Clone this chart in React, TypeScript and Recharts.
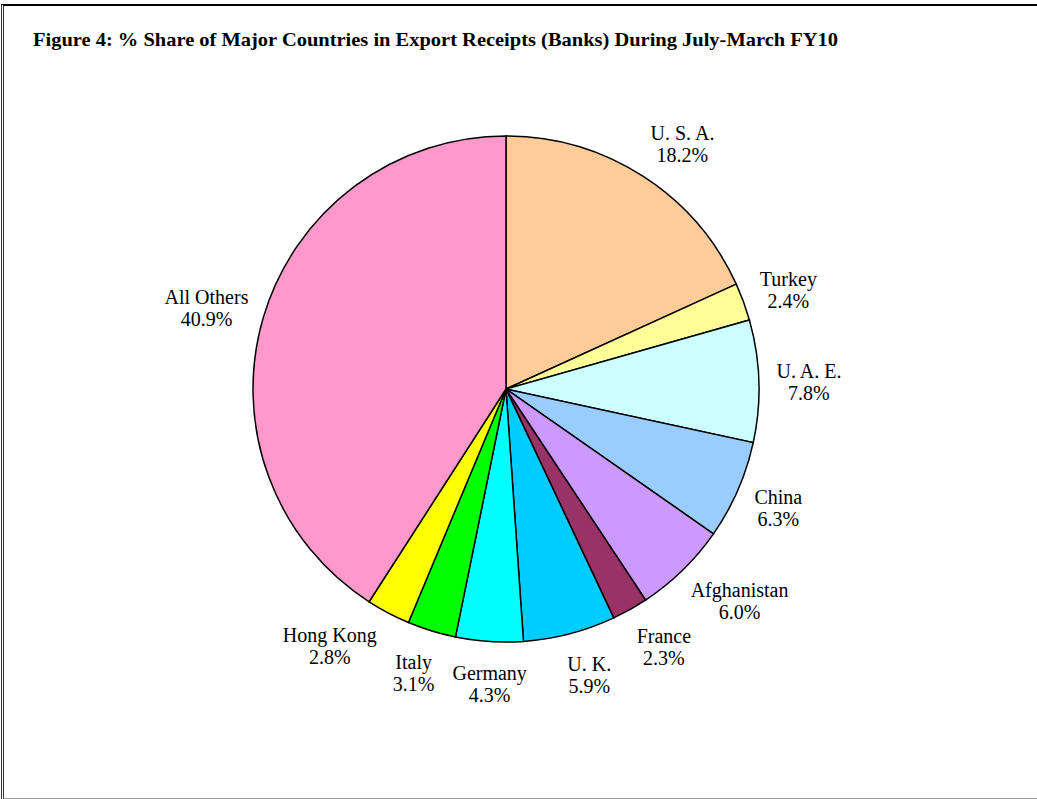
import React from "react";
import { PieChart, Pie, Cell } from "recharts";

const countries = ["U. S. A.", "Turkey", "U. A. E.", "China", "Afghanistan", "France", "U. K.", "Germany", "Italy", "Hong Kong", "All Others"];
const shares = [18.2, 2.4, 7.8, 6.3, 6.0, 2.3, 5.9, 4.3, 3.1, 2.8, 40.9];
const colors = ["#FFCC99", "#FFFF99", "#CCFFFF", "#99CCFF", "#CC99FF", "#993366", "#00CCFF", "#00FFFF", "#00FF00", "#FFFF00", "#FF99CC"];
const title = "Figure 4: % Share of Major Countries in Export Receipts (Banks) During July-March FY10";

const data = countries.map((name, i) => ({ name, value: shares[i] }));

const RAD = Math.PI / 180;
const FONT = "'Liberation Serif', 'Times New Roman', serif";
const FONT_SIZE = 20;
const CX = 506;
const CY = 389;
const R = 253;
const GAP = 22;
const LABEL_H = 44;

let ctx: CanvasRenderingContext2D | null = null;
const measure = (s: string) => {
  try {
    if (!ctx) {
      ctx = document.createElement("canvas").getContext("2d");
      if (ctx) ctx.font = `${FONT_SIZE}px "Liberation Serif"`;
    }
    if (ctx) return ctx.measureText(s).width;
  } catch (e) {}
  return s.length * 9;
};

const pctText = (v: number) => `${Number(v).toFixed(1)}%`;

// label box centre for a clock angle (degrees from 12 o'clock, clockwise)
const labelCentre = (theta: number, w: number, cx: number, cy: number, r: number) => {
  const dx = Math.sin(theta * RAD);
  const dy = -Math.cos(theta * RAD);
  const ax = cx + dx * (r + GAP);
  const ay = cy + dy * (r + GAP);
  const lx = ax + Math.sign(dx) * (w / 2) * 0.85 * Math.min(1, Math.abs(dx) * 3);
  const ly = ay + dy * (LABEL_H / 2) * 0.85 + 3;
  return [lx, ly];
};

// simple collision resolution: spread overlapping neighbours along the circle
const widths = data.map((d) => Math.max(measure(d.name), measure(pctText(d.value))));
const total = shares.reduce((a, b) => a + b, 0);
const clockMids: number[] = [];
{
  let acc = 0;
  shares.forEach((s) => {
    clockMids.push(((acc + s / 2) / total) * 360);
    acc += s;
  });
}
const deltas = shares.map(() => 0);
{
  const padX = 16;
  for (let iter = 0; iter < 400; iter++) {
    let moved = false;
    for (let i = 0; i < shares.length; i++) {
      const j = (i + 1) % shares.length;
      const [ax, ay] = labelCentre(clockMids[i] + deltas[i], widths[i], CX, CY, R);
      const [bx, by] = labelCentre(clockMids[j] + deltas[j], widths[j], CX, CY, R);
      if (Math.abs(ax - bx) < (widths[i] + widths[j]) / 2 + padX && Math.abs(ay - by) < LABEL_H) {
        deltas[i] -= 0.25;
        deltas[j] += 0.25;
        moved = true;
      }
    }
    if (!moved) break;
  }
}

const renderLabel = (props: any) => {
  const { cx, cy, midAngle, outerRadius, name, value, index } = props;
  const theta = 90 - midAngle + (deltas[index] || 0);
  const [lx, ly] = labelCentre(theta, widths[index] ?? measure(name), cx, cy, outerRadius);
  return (
    <text x={lx} y={ly} textAnchor="middle" fontFamily={FONT} fontSize={FONT_SIZE} fill="#000">
      <tspan x={lx} y={ly - 5}>{name}</tspan>
      <tspan x={lx} y={ly + 17}>{pctText(value)}</tspan>
    </text>
  );
};

export default function App() {
  return (
    <div style={{ position: "absolute", left: 0, top: 0, width: 1037, height: 799, overflow: "hidden", background: "#fff" }}>
      <div style={{ position: "absolute", left: 1, top: 4, width: 1100, height: 792, borderTop: "2px solid #000", borderLeft: "3px double #333", borderBottom: "2px solid #999" }} />
      <svg style={{ position: "absolute", left: 0, top: 0 }} width={1037} height={80}>
        <text x={33} y={46} fontFamily={FONT} fontWeight="bold" fontSize={19} textLength={805} lengthAdjust="spacingAndGlyphs" fill="#000">{title}</text>
      </svg>
      <div style={{ position: "absolute", left: 0, top: 0 }}>
        <PieChart width={1037} height={799} margin={{ top: 0, right: 0, bottom: 0, left: 0 }}>
          <Pie
            data={data}
            dataKey="value"
            nameKey="name"
            cx={CX}
            cy={CY}
            outerRadius={R}
            startAngle={90}
            endAngle={-270}
            stroke="#000"
            strokeWidth={1.5}
            label={renderLabel}
            labelLine={false}
            isAnimationActive={false}
          >
            {data.map((d, i) => (
              <Cell key={d.name} fill={colors[i]} />
            ))}
          </Pie>
        </PieChart>
      </div>
    </div>
  );
}
